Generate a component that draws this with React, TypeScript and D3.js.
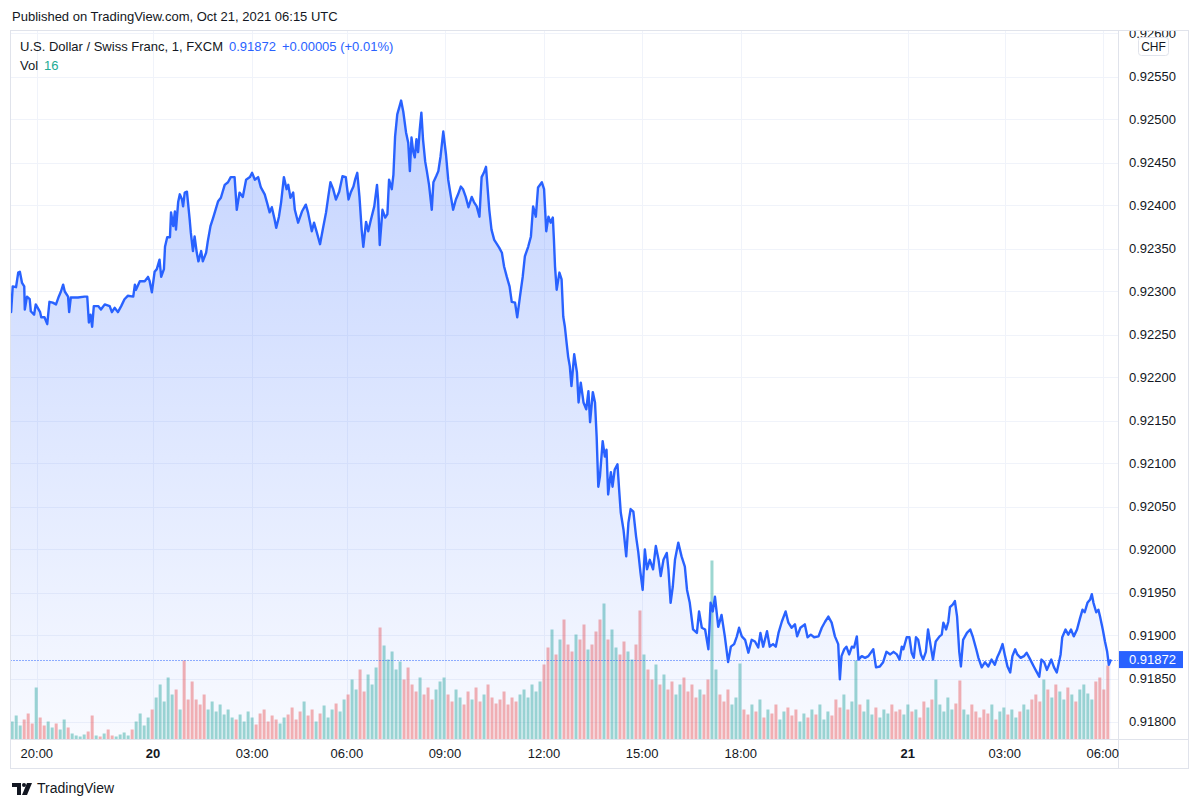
import React from 'react';
import * as d3 from 'd3';

const W = 1200;
const H = 807;

const TITLE = 'Published on TradingView.com, Oct 21, 2021 06:15 UTC';
const SYMBOL = 'U.S. Dollar / Swiss Franc, 1, FXCM';
const LAST_PRICE = 0.91872;
const CHANGE_TEXT = '+0.00005 (+0.01%)';
const LAST_VOLUME = 16;
const CURRENCY = 'CHF';

const TIME_TICKS: { label: string; bar: number; bold: boolean }[] = [
  { label: '20:00', bar: 49, bold: false },
  { label: '20', bar: 261, bold: true },
  { label: '03:00', bar: 442, bold: false },
  { label: '06:00', bar: 615, bold: false },
  { label: '09:00', bar: 794, bold: false },
  { label: '12:00', bar: 975, bold: false },
  { label: '15:00', bar: 1154, bold: false },
  { label: '18:00', bar: 1334, bold: false },
  { label: '21', bar: 1639, bold: true },
  { label: '03:00', bar: 1816, bold: false },
  { label: '06:00', bar: 1995, bold: false },
];

const PRICE_TICKS = [
  0.918, 0.9185, 0.919, 0.9195, 0.92, 0.9205, 0.921, 0.9215, 0.922, 0.9225,
  0.923, 0.9235, 0.924, 0.9245, 0.925, 0.9255, 0.926,
];

const LAST_BAR = 2010;

// [bar index (1-minute bars), close]
const PRICE_POINTS: [number, number][] = [
  [0, 0.92276], [2, 0.92276], [5, 0.92306], [11, 0.92305], [15, 0.92322], [18, 0.92323],
  [22, 0.9231], [26, 0.92306], [27, 0.92279], [31, 0.92294], [36, 0.92291], [38, 0.92277],
  [44, 0.92273], [47, 0.92285], [55, 0.92276], [57, 0.9227], [63, 0.9227], [68, 0.92262],
  [72, 0.92288], [78, 0.92287], [84, 0.92285], [89, 0.92294], [93, 0.923], [97, 0.92308],
  [100, 0.923], [106, 0.92294], [108, 0.92276], [111, 0.92293], [124, 0.92293], [136, 0.92294],
  [141, 0.92294], [144, 0.92264], [147, 0.92273], [150, 0.92259], [153, 0.92283], [161, 0.92283],
  [166, 0.92279], [173, 0.92285], [182, 0.92283], [186, 0.92276], [191, 0.92281], [197, 0.92276],
  [203, 0.92283], [209, 0.92291], [215, 0.92295], [225, 0.92294], [228, 0.92308], [230, 0.92302],
  [237, 0.92312], [246, 0.92312], [252, 0.92317], [255, 0.92312], [259, 0.92299], [264, 0.92323],
  [268, 0.92326], [273, 0.92337], [276, 0.92317], [281, 0.92326], [283, 0.92352], [287, 0.92363],
  [292, 0.92363], [294, 0.92392], [298, 0.92376], [301, 0.92393], [303, 0.92372], [307, 0.92404],
  [310, 0.92413], [314, 0.92407], [316, 0.92399], [319, 0.92415], [323, 0.92416], [328, 0.92384],
  [330, 0.92369], [334, 0.92347], [337, 0.92364], [341, 0.92345], [344, 0.92335], [349, 0.92347],
  [352, 0.92335], [358, 0.92345], [361, 0.92358], [366, 0.92376], [371, 0.92386], [380, 0.92405],
  [385, 0.92409], [392, 0.92424], [398, 0.92427], [403, 0.92433], [410, 0.92433], [414, 0.92395],
  [419, 0.92415], [425, 0.9241], [431, 0.9243], [438, 0.92433], [442, 0.92438], [447, 0.9243],
  [453, 0.92433], [458, 0.92421], [465, 0.92413], [469, 0.92404], [474, 0.92392], [478, 0.92398],
  [483, 0.92384], [486, 0.92374], [491, 0.92387], [495, 0.92404], [500, 0.92433], [505, 0.92419],
  [508, 0.92424], [512, 0.92409], [517, 0.92415], [520, 0.92395], [526, 0.9238], [533, 0.92393],
  [540, 0.92401], [544, 0.92392], [551, 0.9237], [555, 0.9238], [560, 0.92369], [566, 0.92355],
  [571, 0.92372], [577, 0.92392], [581, 0.9241], [585, 0.92427], [590, 0.92419], [595, 0.92407],
  [601, 0.92416], [607, 0.92434], [613, 0.92433], [618, 0.92407], [622, 0.92415], [627, 0.92422],
  [630, 0.9243], [634, 0.92438], [638, 0.9241], [642, 0.92372], [645, 0.92352], [650, 0.92381],
  [654, 0.9237], [658, 0.92381], [665, 0.92399], [670, 0.92424], [672, 0.92407], [675, 0.92354],
  [680, 0.92395], [685, 0.92386], [689, 0.9239], [692, 0.9243], [697, 0.92419], [700, 0.92436],
  [703, 0.9248], [707, 0.92506], [711, 0.92515], [714, 0.92522], [718, 0.92509], [723, 0.92485],
  [727, 0.92473], [730, 0.9244], [733, 0.92479], [736, 0.92463], [739, 0.92456], [742, 0.92477],
  [745, 0.92462], [748, 0.92488], [751, 0.92508], [754, 0.92477], [758, 0.92451], [761, 0.9244],
  [765, 0.92424], [770, 0.92395], [773, 0.92427], [778, 0.92434], [782, 0.9244], [786, 0.92457],
  [791, 0.92486], [796, 0.92459], [800, 0.9243], [805, 0.9241], [809, 0.92395], [814, 0.92407],
  [818, 0.92413], [823, 0.92422], [827, 0.92419], [832, 0.9241], [837, 0.92398], [843, 0.9241],
  [847, 0.92404], [852, 0.92399], [857, 0.92387], [861, 0.92433], [865, 0.92438], [869, 0.92445],
  [871, 0.92428], [875, 0.92395], [879, 0.92372], [884, 0.9236], [889, 0.92355], [893, 0.92351],
  [898, 0.92345], [902, 0.92329], [907, 0.92317], [912, 0.92306], [916, 0.92288], [922, 0.92287],
  [926, 0.9227], [931, 0.92294], [936, 0.92317], [940, 0.92341], [946, 0.92352], [951, 0.92364],
  [955, 0.92399], [960, 0.92387], [964, 0.92421], [971, 0.92427], [975, 0.92419], [979, 0.9237],
  [983, 0.92387], [987, 0.9238], [991, 0.92386], [993, 0.9236], [995, 0.92329], [998, 0.92302],
  [1003, 0.92322], [1007, 0.92314], [1010, 0.92271], [1013, 0.92259], [1016, 0.92241], [1019, 0.92224],
  [1022, 0.92213], [1025, 0.9219], [1030, 0.92227], [1035, 0.92206], [1038, 0.92171], [1042, 0.92194],
  [1047, 0.92171], [1052, 0.92163], [1056, 0.92184], [1059, 0.92148], [1064, 0.92183], [1068, 0.92171],
  [1071, 0.92131], [1074, 0.92073], [1077, 0.92085], [1082, 0.92126], [1086, 0.92108], [1089, 0.92116],
  [1092, 0.92064], [1097, 0.9209], [1100, 0.92073], [1104, 0.92093], [1109, 0.92099], [1112, 0.9207],
  [1115, 0.92043], [1120, 0.92023], [1125, 0.91992], [1129, 0.92031], [1133, 0.92047], [1138, 0.92044],
  [1143, 0.92015], [1147, 0.91997], [1151, 0.91973], [1155, 0.91953], [1159, 0.92], [1163, 0.91977],
  [1168, 0.91988], [1174, 0.91977], [1179, 0.92004], [1184, 0.91988], [1188, 0.91969], [1193, 0.91988],
  [1199, 0.91996], [1202, 0.91977], [1206, 0.91938], [1210, 0.91957], [1214, 0.91988], [1220, 0.92008],
  [1226, 0.91992], [1232, 0.9198], [1236, 0.91953], [1241, 0.91938], [1247, 0.91907], [1254, 0.91903],
  [1258, 0.91928], [1263, 0.91909], [1269, 0.91907], [1275, 0.91884], [1279, 0.91938], [1283, 0.91928],
  [1287, 0.91945], [1293, 0.9191], [1299, 0.91924], [1305, 0.91899], [1311, 0.91869], [1316, 0.91887],
  [1322, 0.9189], [1327, 0.91899], [1331, 0.91909], [1336, 0.91899], [1342, 0.91895], [1348, 0.9188],
  [1354, 0.91895], [1360, 0.91893], [1366, 0.91886], [1370, 0.91903], [1375, 0.91887], [1382, 0.91905],
  [1387, 0.91887], [1393, 0.9189], [1398, 0.91887], [1403, 0.91903], [1409, 0.91916], [1416, 0.91928],
  [1421, 0.91915], [1427, 0.91909], [1433, 0.91913], [1437, 0.91899], [1443, 0.91909], [1451, 0.91913],
  [1456, 0.91898], [1462, 0.91901], [1468, 0.91898], [1476, 0.91899], [1482, 0.91909], [1488, 0.91916],
  [1494, 0.91922], [1500, 0.91915], [1506, 0.91899], [1512, 0.9189], [1515, 0.91849], [1518, 0.91876],
  [1523, 0.91884], [1527, 0.91887], [1532, 0.91878], [1537, 0.91887], [1541, 0.91886], [1546, 0.91899],
  [1549, 0.91872], [1555, 0.91876], [1561, 0.91874], [1567, 0.91876], [1576, 0.91884], [1581, 0.91863],
  [1588, 0.91864], [1594, 0.91869], [1600, 0.91881], [1607, 0.91878], [1613, 0.91881], [1619, 0.91878],
  [1624, 0.91872], [1628, 0.91887], [1631, 0.91884], [1637, 0.91898], [1642, 0.91898], [1646, 0.9188],
  [1650, 0.91874], [1654, 0.91898], [1658, 0.91895], [1663, 0.91878], [1667, 0.91872], [1672, 0.91881],
  [1676, 0.91907], [1681, 0.91887], [1685, 0.91872], [1690, 0.91893], [1697, 0.91899], [1701, 0.91901],
  [1704, 0.91915], [1709, 0.91907], [1713, 0.91916], [1716, 0.91933], [1721, 0.91936], [1725, 0.9194],
  [1729, 0.91922], [1733, 0.91881], [1736, 0.91864], [1740, 0.91895], [1747, 0.91903], [1753, 0.91907],
  [1758, 0.91898], [1764, 0.91884], [1768, 0.91874], [1774, 0.91863], [1780, 0.91869], [1786, 0.91864],
  [1792, 0.91872], [1798, 0.91866], [1802, 0.91874], [1807, 0.91881], [1812, 0.9189], [1816, 0.91878],
  [1821, 0.91864], [1826, 0.91857], [1830, 0.91876], [1835, 0.91884], [1839, 0.91878], [1845, 0.91874],
  [1851, 0.91876], [1856, 0.9188], [1861, 0.91874], [1865, 0.91869], [1869, 0.91864], [1874, 0.91858],
  [1879, 0.91852], [1883, 0.91872], [1888, 0.91869], [1893, 0.9186], [1897, 0.91866], [1901, 0.91872],
  [1906, 0.91863], [1911, 0.91857], [1918, 0.91878], [1921, 0.91898], [1927, 0.91907], [1932, 0.91901],
  [1937, 0.91907], [1942, 0.91899], [1948, 0.91907], [1953, 0.91919], [1958, 0.9193], [1962, 0.91927],
  [1967, 0.91938], [1972, 0.91942], [1975, 0.91948], [1978, 0.91938], [1983, 0.91927], [1987, 0.9193],
  [1990, 0.91922], [1995, 0.91907], [1999, 0.91893], [2003, 0.91881], [2006, 0.91866], [2010, 0.91872],
];

// volume samples, one every VOL_STEP bars starting at VOL_START
const VOL_START = 4;
const VOL_STEP = 7.3;
const VOLUME = [
  18, 24, 14, 20, 26, 16, 52, 22, 14, 18, 12, 16, 10, 20, 12,
  6, 4, 3, 5, 8, 24, 4, 3, 6, 10, 4, 3, 5, 7, 4,
  10, 18, 26, 14, 22,
  30, 42, 55, 38, 62, 45, 50, 30, 79, 40,
  58, 40, 35, 45, 30, 38, 28, 35, 25, 30, 22,
  20, 25, 18, 28, 22, 15, 26, 30, 18, 24, 20, 16, 22,
  25, 32, 20, 28, 38, 24, 30, 18, 26, 34, 22, 30, 36, 28, 40,
  45, 60, 50, 70, 48, 65, 55, 72,
  112,
  94, 80, 88, 70, 78,
  60, 72, 55, 48, 62, 45, 52, 40, 50, 58, 62, 45, 38, 50, 42, 35, 48, 40, 52, 38,
  45, 55, 42, 36, 40, 48, 35, 42, 38, 45, 50, 42, 55, 48, 58,
  75, 92, 110, 85, 100, 120, 95, 88, 105, 100, 115, 90, 95, 108, 120, 136, 100, 110, 92, 85,
  98, 88, 80, 95, 129, 85,
  70, 60, 75, 55, 65, 50, 58, 45, 55, 62, 48, 55, 42, 50, 45,
  60, 179,
  70, 45, 38, 50, 35, 42, 76,
  30, 25, 35, 28, 40, 22, 30, 26, 35, 20, 28, 32, 24, 30, 18, 26, 22, 30, 25, 35,
  20, 28, 24, 40, 32, 45, 30, 38, 79, 35, 28, 40, 25, 32, 22, 30, 26, 35, 28, 30,
  25, 35, 28, 30, 22, 38, 32, 40, 60, 35, 28, 42, 30, 36, 59, 30, 25, 35, 28, 22,
  30, 26, 35, 20, 28, 32, 25, 30, 22, 28, 35, 30, 40, 45, 38,
  60, 50, 42, 55, 48, 40, 52, 45, 38, 50, 55, 46, 40, 58, 62, 50, 74,
];

const FONT = '"Liberation Sans", Arial, sans-serif';
const TEXT = '#131722';
const BLUE = '#2962FF';
const BORDER = '#e0e3eb';
const GRID = '#f0f3fa';

const PANE = { left: 10.5, right: 1118.5, top: 30.5, bottom: 739.5, outerRight: 1188.5, outerBottom: 768.5 };

export default function App() {
  const x = d3.scaleLinear().domain([0, LAST_BAR]).range([10, 1111]);
  const y = d3.scaleLinear().domain([0.918, 0.9255]).range([721.5, 76.5]);
  const vol = d3.scaleLinear().domain([0, 200]).range([0, 200]);

  const line = d3
    .line<[number, number]>()
    .x((d) => x(d[0]))
    .y((d) => y(d[1]))
    .curve(d3.curveLinear);
  const area = d3
    .area<[number, number]>()
    .x((d) => x(d[0]))
    .y0(PANE.bottom)
    .y1((d) => y(d[1]))
    .curve(d3.curveLinear);

  const bis = d3.bisector((d: [number, number]) => d[0]).left;
  const priceAt = (b: number) => {
    if (b <= PRICE_POINTS[0][0]) return PRICE_POINTS[0][1];
    const i = bis(PRICE_POINTS, b);
    if (i >= PRICE_POINTS.length) return PRICE_POINTS[PRICE_POINTS.length - 1][1];
    const a = PRICE_POINTS[i - 1];
    const c = PRICE_POINTS[i];
    const t = (b - a[0]) / (c[0] - a[0] || 1);
    return a[1] + (c[1] - a[1]) * t;
  };

  const yLast = y(LAST_PRICE);

  return (
    <div style={{ position: 'absolute', left: 0, top: 0, width: W, height: H, background: '#fff' }}>
      <svg width={W} height={H} style={{ display: 'block', fontFamily: FONT }}>
        <defs>
          <linearGradient id="areaGrad" gradientUnits="userSpaceOnUse" x1="0" y1="100" x2="0" y2={PANE.bottom}>
            <stop offset="0" stopColor={BLUE} stopOpacity={0.28} />
            <stop offset="1" stopColor={BLUE} stopOpacity={0.03} />
          </linearGradient>
          <clipPath id="paneClip">
            <rect x={PANE.left} y={PANE.top} width={PANE.right - PANE.left} height={PANE.bottom - PANE.top} />
          </clipPath>
          <clipPath id="axisClip">
            <rect x={PANE.right} y={PANE.top + 0.5} width={PANE.outerRight - PANE.right} height={PANE.bottom - PANE.top} />
          </clipPath>
        </defs>

        <text x={12} y={21} fontSize={13} fill={TEXT}>{TITLE}</text>

        {/* grid */}
        <g clipPath="url(#paneClip)">
          {PRICE_TICKS.map((p) => (
            <line key={'h' + p} x1={PANE.left} x2={PANE.right} y1={Math.round(y(p)) + 0.5} y2={Math.round(y(p)) + 0.5} stroke={GRID} />
          ))}
          {TIME_TICKS.map((t, i) => (
            <line key={'v' + i} x1={Math.round(x(t.bar)) + 0.5} x2={Math.round(x(t.bar)) + 0.5} y1={PANE.top} y2={PANE.bottom} stroke={GRID} />
          ))}
        </g>

        {/* volume */}
        <g clipPath="url(#paneClip)">
          {VOLUME.map((v, i) => {
            const b = VOL_START + i * VOL_STEP;
            const up = priceAt(b) >= priceAt(b - VOL_STEP);
            const h = vol(v);
            return (
              <rect
                key={'vol' + i}
                x={x(b) - 1.5}
                y={PANE.bottom - h}
                width={3}
                height={h}
                fill={up ? 'rgba(38,166,154,0.45)' : 'rgba(239,83,80,0.45)'}
              />
            );
          })}
        </g>

        {/* area + line */}
        <g clipPath="url(#paneClip)">
          <path d={area(PRICE_POINTS) || ''} fill="url(#areaGrad)" />
          <path d={line(PRICE_POINTS) || ''} fill="none" stroke={BLUE} strokeWidth={2.4} strokeLinejoin="round" />
          <line x1={PANE.left} x2={PANE.right} y1={Math.round(yLast) + 0.5} y2={Math.round(yLast) + 0.5} stroke={BLUE} strokeWidth={1} strokeDasharray="1 2" />
        </g>

        {/* legend */}
        <text x={20} y={51} fontSize={13} fill={TEXT}>
          {SYMBOL}
          <tspan dx={6} fill={BLUE}>{LAST_PRICE.toFixed(5)}</tspan>
          <tspan dx={6} fill={BLUE}>{CHANGE_TEXT}</tspan>
        </text>
        <text x={20} y={70} fontSize={13} fill={TEXT}>
          Vol
          <tspan dx={6} fill="#22ab94">{LAST_VOLUME}</tspan>
        </text>

        {/* borders */}
        <rect x={PANE.left} y={PANE.top} width={PANE.outerRight - PANE.left} height={PANE.outerBottom - PANE.top} fill="none" stroke={BORDER} />
        <line x1={PANE.right} x2={PANE.right} y1={PANE.top} y2={PANE.outerBottom} stroke={BORDER} />
        <line x1={PANE.left} x2={PANE.outerRight} y1={PANE.bottom} y2={PANE.bottom} stroke={BORDER} />

        {/* price axis */}
        <g clipPath="url(#axisClip)">
          {PRICE_TICKS.map((p) => (
            <text key={'pt' + p} x={1129} y={y(p)} dy="0.35em" fontSize={13} fill={TEXT}>
              {p.toFixed(5)}
            </text>
          ))}
        </g>
        <rect x={1138.5} y={37.5} width={30} height={18} rx={3} fill="#fff" stroke={BORDER} />
        <text x={1153.5} y={46.5} dy="0.35em" textAnchor="middle" fontSize={12} fill={TEXT}>{CURRENCY}</text>

        <rect x={1119} y={yLast - 8.5} width={64} height={17} fill={BLUE} />
        <text x={1129} y={yLast} dy="0.35em" fontSize={13} fill="#fff">{LAST_PRICE.toFixed(5)}</text>

        {/* time axis */}
        {TIME_TICKS.map((t, i) => (
          <text
            key={'tt' + i}
            x={x(t.bar)}
            y={753}
            dy="0.35em"
            textAnchor="middle"
            fontSize={13}
            fontWeight={t.bold ? 700 : 400}
            fill={TEXT}
          >
            {t.label}
          </text>
        ))}
        {/* cover for time label overflow past the pane */}
        <rect x={PANE.right + 0.5} y={PANE.bottom + 0.5} width={PANE.outerRight - PANE.right - 1} height={PANE.outerBottom - PANE.bottom - 1} fill="#fff" />

        {/* footer logo */}
        <g fill={TEXT}>
          <path d="M12 783 H21 V795 H17 V787 H12 Z" />
          <circle cx={24} cy={785} r={2} />
          <path d="M27 783 H32 L27 795 H22 Z" />
        </g>
        <text x={37} y={793} fontSize={14} fill={TEXT}>TradingView</text>
      </svg>
    </div>
  );
}
